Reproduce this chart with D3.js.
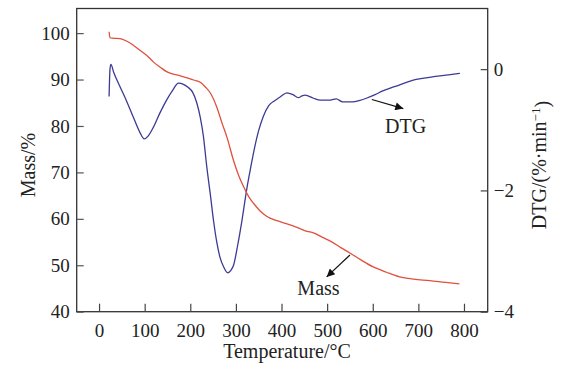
<!DOCTYPE html>
<html><head><meta charset="utf-8">
<script src="https://cdn.jsdelivr.net/npm/d3@7"></script>
<style>
html,body{margin:0;padding:0;background:#fff;}
text{font-family:"Liberation Serif","Times New Roman",serif;fill:#222;}
</style></head>
<body><svg id="c" width="579" height="372"></svg>
<script>
// ---- data ----
const massT = [22,24,30,46,60,75,94,110,119,135,148,165,178,195,207,222,233,244,258,270,280,295,305,317,328,339,352,368,390,412,435,456,470,490,507,530,549,575,600,630,659,690,725,760,790];
const massV = [100.3,99.0,98.9,98.8,98.3,97.4,96.0,94.7,93.8,92.6,91.7,91.1,90.8,90.3,89.9,89.4,88.4,87.1,84.1,80.5,77.7,72.5,69.6,66.9,64.8,63.3,61.8,60.5,59.6,58.9,58.1,57.3,57.0,56.0,55.2,53.8,52.7,51.1,49.7,48.5,47.5,47.0,46.7,46.3,46.0];
const dtgT = [22,24,26,32,46,60,75,90,99,108,119,133,148,162,174,185,195,205,214,222,229,236,244,251,258,265,273,282,289,295,304,313,324,331,340,350,360,372,385,397,412,425,437,445,452,470,485,507,520,534,556,570,586,605,622,640,659,677,695,720,747,770,791];
const dtgV = [-0.45,0.0,0.08,-0.05,-0.29,-0.52,-0.79,-1.05,-1.15,-1.10,-0.96,-0.73,-0.51,-0.34,-0.23,-0.25,-0.30,-0.38,-0.55,-0.80,-1.12,-1.6,-2.07,-2.5,-2.85,-3.1,-3.26,-3.36,-3.32,-3.23,-2.9,-2.51,-1.97,-1.68,-1.33,-1.01,-0.78,-0.60,-0.52,-0.46,-0.39,-0.42,-0.47,-0.44,-0.43,-0.48,-0.51,-0.51,-0.49,-0.54,-0.54,-0.52,-0.48,-0.42,-0.36,-0.31,-0.26,-0.21,-0.17,-0.14,-0.11,-0.09,-0.07];
const xTicks = [0,100,200,300,400,500,600,700,800];
const yLeftTicks = [40,50,60,70,80,90,100];
const yRightTicks = [0,-2,-4];
const xTitle = "Temperature/°C";
const yLeftTitle = "Mass/%";

// ---- layout ----
const L = 76.7, R = 487.7, T = 8.5, B = 311.7;
const svg = d3.select("#c");
const x = d3.scaleLinear().domain([-49, 852]).range([L, R]);
const yL = d3.scaleLinear().domain([40, 105.3]).range([B, T]);
const yR = d3.scaleLinear().domain([-4, 1]).range([B, T]);
const axisColor = "#333";

// frame
svg.append("rect").attr("x", L).attr("y", T).attr("width", R - L).attr("height", B - T)
  .attr("fill", "none").attr("stroke", axisColor).attr("stroke-width", 1.3);

// bottom axis
const gx = svg.append("g").attr("transform", `translate(0,${B})`)
  .call(d3.axisBottom(x).tickValues(xTicks).tickSize(-8).tickPadding(12).tickFormat(d3.format("d")));
gx.select(".domain").remove();
gx.selectAll("line").attr("stroke", "#444").attr("stroke-width", 1.2);
gx.selectAll("text").style("font-size", "19px").attr("fill", "#222").attr("dy", "0.72em");

// left axis
const gy = svg.append("g").attr("transform", `translate(${L},0)`)
  .call(d3.axisLeft(yL).tickValues(yLeftTicks).tickSize(-7).tickPadding(7).tickFormat(d3.format("d")));
gy.select(".domain").remove();
gy.selectAll("line").attr("stroke", "#555").attr("stroke-width", 1.2);
gy.selectAll("text").style("font-size", "19px").attr("fill", "#222");

// right axis
const gr = svg.append("g").attr("transform", `translate(${R},0)`)
  .call(d3.axisRight(yR).tickValues(yRightTicks).tickSize(-7).tickPadding(6)
    .tickFormat(d => d === 0 ? "0" : "\u2212" + Math.abs(d)));
gr.select(".domain").remove();
gr.selectAll("line").attr("stroke", "#444").attr("stroke-width", 1.2);
gr.selectAll("text").style("font-size", "19px").attr("fill", "#222");

// titles
svg.append("text").attr("x", 287).attr("y", 358).attr("text-anchor", "middle")
  .style("font-size", "20px").text(xTitle);
svg.append("text").attr("transform", "translate(35,165) rotate(-90)").attr("text-anchor", "middle")
  .style("font-size", "20px").text(yLeftTitle);
const rt = svg.append("text").attr("transform", "translate(546,165) rotate(-90)").attr("text-anchor", "middle")
  .style("font-size", "20px");
rt.append("tspan").text("DTG/(%\u00b7min");
rt.append("tspan").attr("dy", "-0.45em").style("font-size", "13px").text("\u22121");
rt.append("tspan").attr("dy", "0.45em").text(")");

// curves
const massData = massT.map((t, i) => [t, massV[i]]);
const dtgData = dtgT.map((t, i) => [t, dtgV[i]]);
svg.append("path").datum(dtgData).attr("fill", "none").attr("stroke", "#3b3b94").attr("stroke-width", 1.3)
  .attr("d", d3.line().x(d => x(d[0])).y(d => yR(d[1])).curve(d3.curveMonotoneX));
svg.append("path").datum(massData).attr("fill", "none").attr("stroke", "#e0503c").attr("stroke-width", 1.3)
  .attr("d", d3.line().x(d => x(d[0])).y(d => yL(d[1])).curve(d3.curveMonotoneX));

// annotations
svg.append("defs").append("marker").attr("id", "ah").attr("viewBox", "0 0 10 10")
  .attr("refX", 10).attr("refY", 5).attr("markerWidth", 11).attr("markerHeight", 8)
  .attr("markerUnits", "userSpaceOnUse").attr("orient", "auto")
  .append("path").attr("d", "M0,0 L10,5 L0,10 Z").attr("fill", "#111");

svg.append("line").attr("x1", x(598)).attr("y1", yR(-0.50)).attr("x2", x(667)).attr("y2", yR(-0.65))
  .attr("stroke", "#111").attr("stroke-width", 1.2).attr("marker-end", "url(#ah)");
svg.append("text").attr("x", x(672)).attr("y", yR(-1.05)).attr("text-anchor", "middle")
  .style("font-size", "20px").text("DTG");

svg.append("line").attr("x1", x(550)).attr("y1", yL(52.2)).attr("x2", x(499)).attr("y2", yL(47.5))
  .attr("stroke", "#111").attr("stroke-width", 1.2).attr("marker-end", "url(#ah)");
svg.append("text").attr("x", x(481)).attr("y", yL(43.6)).attr("text-anchor", "middle")
  .style("font-size", "20px").text("Mass");
</script></body></html>
